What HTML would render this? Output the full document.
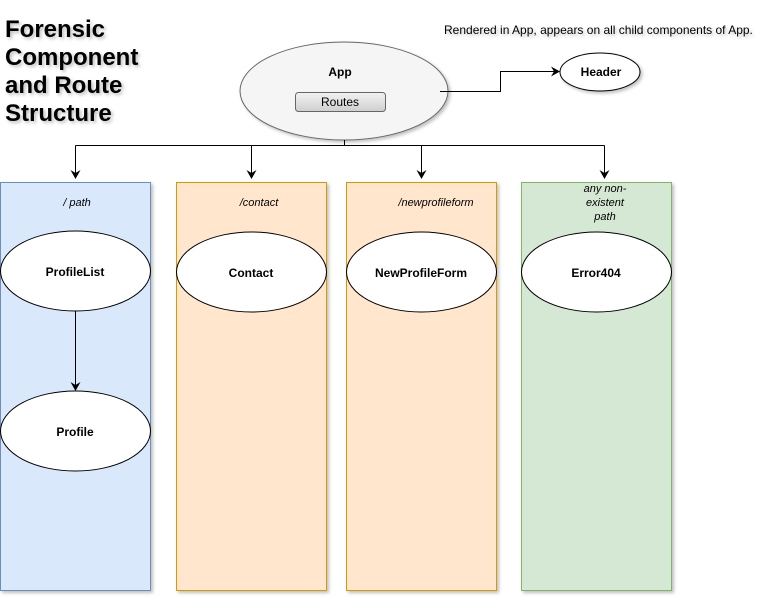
<!DOCTYPE html>
<html><head><style>body{margin:0;background:#fff}</style></head><body>
<svg width="772" height="603" xmlns="http://www.w3.org/2000/svg" font-family="Liberation Sans, Arial, sans-serif">
<defs>
<filter id="sh" x="-10%" y="-10%" width="130%" height="130%"><feDropShadow dx="2" dy="2" stdDeviation="1.5" flood-color="#000" flood-opacity="0.25"/></filter>
<linearGradient id="g" x1="0" y1="0" x2="0" y2="1"><stop offset="0" stop-color="#f2f2f2"/><stop offset="1" stop-color="#cfcfcf"/></linearGradient>
<marker id="a" markerWidth="10" markerHeight="10" refX="8" refY="5" orient="auto" markerUnits="userSpaceOnUse"><path d="M0,0 L9,5 L0,10 L3,5 z" fill="#000"/></marker>
</defs>
<g font-weight="bold" font-size="24" fill="#000" filter="url(#sh)">
<text x="5" y="37">Forensic</text><text x="5" y="65">Component</text><text x="5" y="93">and Route</text><text x="5" y="121">Structure</text>
</g>
<text x="444" y="34" font-size="12" filter="url(#sh)">Rendered in App, appears on all child components of App.</text>
<g filter="url(#sh)">
<rect x="0.5" y="182.5" width="150" height="408" fill="#dae8fc" stroke="#6c8ebf"/>
<rect x="176.5" y="182.5" width="150" height="408" fill="#ffe6cc" stroke="#d79b00"/>
<rect x="346.5" y="182.5" width="150" height="408" fill="#ffe6cc" stroke="#d79b00"/>
<rect x="521.5" y="182.5" width="150" height="408" fill="#d5e8d4" stroke="#82b366"/>
<ellipse cx="344" cy="91" rx="104" ry="49" fill="#f5f5f5" stroke="#666"/>
<ellipse cx="600" cy="72" rx="40" ry="19" fill="#fff" stroke="#000"/>
</g>
<rect x="295.5" y="92.5" width="90" height="19" rx="3" fill="url(#g)" stroke="#666"/>
<text x="340" y="106" font-size="12" text-anchor="middle">Routes</text>
<text x="340" y="76" font-size="12" font-weight="bold" text-anchor="middle">App</text>
<text x="601" y="76" font-size="12" font-weight="bold" text-anchor="middle">Header</text>
<g fill="none" stroke="#000" stroke-width="1">
<path d="M440,91.5 H500.5 V71.5 H559" marker-end="url(#a)"/>
<path d="M344.5,140 V145.5"/>
<path d="M75.5,145.5 H604.5"/>
<path d="M75.5,145.5 V178" marker-end="url(#a)"/>
<path d="M251.5,145.5 V178" marker-end="url(#a)"/>
<path d="M421.5,145.5 V178" marker-end="url(#a)"/>
<path d="M604.5,145.5 V178" marker-end="url(#a)"/>
<path d="M75.5,311 V390" marker-end="url(#a)"/>
</g>
<g fill="#fff" stroke="#000">
<ellipse cx="75.5" cy="271" rx="75" ry="40"/>
<ellipse cx="75.5" cy="431" rx="75" ry="40"/>
<ellipse cx="251.5" cy="272" rx="75" ry="40"/>
<ellipse cx="421.5" cy="272" rx="75" ry="40"/>
<ellipse cx="596.5" cy="272" rx="75" ry="40"/>
</g>
<g font-size="12" font-weight="bold" text-anchor="middle">
<text x="75" y="276">ProfileList</text>
<text x="75" y="436">Profile</text>
<text x="251" y="277">Contact</text>
<text x="421" y="277">NewProfileForm</text>
<text x="596" y="277">Error404</text>
</g>
<g font-size="11" font-style="italic" text-anchor="middle">
<text x="77" y="206">/ path</text>
<text x="259" y="206">/contact</text>
<text x="436" y="206">/newprofileform</text>
<text x="605" y="192">any non-</text>
<text x="605" y="206">existent</text>
<text x="605" y="220">path</text>
</g>
</svg>
</body></html>
